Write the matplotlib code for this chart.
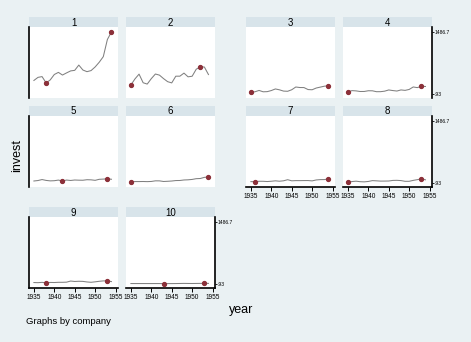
import numpy as np
import matplotlib

matplotlib.use("Agg")
import matplotlib.pyplot as plt  # noqa: E402

plt.rcParams["font.family"] = ["Liberation Sans", "DejaVu Sans"]

BG = "#eaf1f3"
STRIP = "#d8e4ea"
LINE = "#808080"
MARK = "#8c3039"

years = list(range(1935, 1955))

# investment by company (Grunfeld panel)
inv_1 = [317.6, 391.8, 410.6, 257.7, 330.8, 461.2, 512.0, 448.0, 499.6, 547.5,
         561.2, 688.1, 568.9, 529.2, 555.1, 642.9, 755.9, 891.2, 1304.4, 1486.7]
inv_2 = [209.9, 355.3, 469.9, 262.3, 230.4, 361.6, 472.8, 445.6, 361.6, 288.2,
         258.7, 420.3, 420.5, 494.5, 405.1, 418.8, 588.2, 645.5, 641.0, 459.3]
inv_3 = [33.1, 45.0, 77.2, 44.6, 48.1, 74.4, 113.0, 91.9, 61.3, 56.8,
         93.6, 159.9, 147.2, 146.3, 98.3, 93.5, 135.2, 157.3, 179.5, 189.6]
inv_4 = [40.29, 72.76, 66.26, 51.60, 52.41, 69.41, 68.35, 46.80, 47.40, 59.57,
         88.78, 74.12, 62.68, 89.36, 78.98, 100.66, 160.62, 145.00, 174.93, 172.49]
inv_5 = [39.68, 50.73, 74.24, 53.51, 42.65, 46.48, 61.40, 39.67, 62.24, 52.32,
         63.21, 59.37, 58.02, 70.34, 67.42, 55.74, 80.30, 85.40, 91.90, 81.43]
inv_6 = [20.36, 25.98, 25.94, 27.53, 24.60, 28.54, 43.41, 42.81, 27.84, 32.60,
         39.03, 50.17, 51.85, 64.03, 68.16, 77.34, 95.30, 99.49, 127.52, 135.72]
inv_7 = [24.43, 23.21, 32.78, 32.54, 26.65, 33.71, 43.50, 34.46, 44.28, 70.80,
         44.12, 48.98, 48.51, 50.00, 50.59, 42.53, 64.77, 72.68, 73.86, 89.51]
inv_8 = [12.93, 25.90, 35.05, 22.89, 18.84, 28.57, 48.51, 43.34, 37.02, 37.81,
         39.27, 53.46, 55.56, 49.56, 32.04, 32.24, 54.38, 71.78, 90.08, 68.60]
inv_9 = [26.63, 23.39, 30.65, 20.89, 28.78, 26.93, 32.08, 32.21, 35.69, 62.47,
         52.32, 56.95, 54.32, 40.53, 32.54, 43.48, 56.49, 65.98, 66.11, 49.34]
inv_10 = [2.54, 2.00, 2.19, 1.99, 2.03, 1.81, 2.14, 1.86, 0.93, 1.18,
          1.36, 2.24, 3.81, 5.66, 4.21, 3.42, 4.67, 6.00, 7.39, 5.92]
companies = ["1", "2", "3", "4", "5", "6", "7", "8", "9", "10"]
invest = [inv_1, inv_2, inv_3, inv_4, inv_5, inv_6, inv_7, inv_8, inv_9, inv_10]
x_ticks = [1935, 1940, 1945, 1950, 1955]
y_ticks = [0.93, 1486.7]
y_tick_labels = [".93", "1486.7"]

W, H = 471, 342
COL_X = [29, 126, 246, 343]
ROW_Y = [17, 106, 207]   # top of strip, px
PW, SH, PH = 89, 10, 71
# (row, col) for each company
SLOT = [(0, 0), (0, 1), (0, 2), (0, 3), (1, 0), (1, 1), (1, 2), (1, 3),
        (2, 0), (2, 1)]
LEFT_AX = {"1", "5", "9"}
RIGHT_AX = {"4", "8", "10"}
BOTTOM_AX = {"7", "8", "9", "10"}


def px_box(x, y, w, h):
    return [x / W, 1 - (y + h) / H, w / W, h / H]


fig = plt.figure(figsize=(W / 100, H / 100), dpi=100, facecolor=BG)

for name, vals, (r, c) in zip(companies, invest, SLOT):
    x0, y0 = COL_X[c], ROW_Y[r]
    st = fig.add_axes(px_box(x0, y0, PW, SH), facecolor=STRIP)
    st.set_xticks([])
    st.set_yticks([])
    for s in st.spines.values():
        s.set_visible(False)
    st.text(0.5, 0.45, name, ha="center", va="center", fontsize=7,
            transform=st.transAxes)

    ax = fig.add_axes(px_box(x0, y0 + SH, PW, PH), facecolor="white")
    v = np.array(vals)
    ax.plot(years, v, color=LINE, lw=0.75, zorder=2)
    imin, imax = int(v.argmin()), int(v.argmax())
    ax.plot([years[imin], years[imax]], [v[imin], v[imax]], "o", color=MARK,
            ms=2.8, zorder=3)
    ax.set_xlim(1933.8, 1955.6)
    ax.set_ylim(-105, 1605)
    for s in ax.spines.values():
        s.set_visible(False)
    ax.set_yticks([])
    ax.set_xticks([])
    if name in LEFT_AX:
        ax.spines["left"].set_visible(True)
        ax.spines["left"].set_linewidth(1.2)
    if name in RIGHT_AX:
        ax.spines["right"].set_visible(True)
        ax.spines["right"].set_linewidth(1.2)
        ax.yaxis.tick_right()
        ax.set_yticks(y_ticks)
        ax.set_yticklabels(y_tick_labels, fontsize=3.6)
        ax.tick_params(axis="y", length=1.5, width=0.6, pad=0.5)
    if name in BOTTOM_AX:
        ax.spines["bottom"].set_visible(True)
        ax.spines["bottom"].set_linewidth(1.2)
        ax.set_xticks(x_ticks)
        ax.set_xticklabels([str(t) for t in x_ticks], fontsize=4.7)
        ax.tick_params(axis="x", length=3, width=0.7, pad=1)

fig.text(17 / W, 1 - 155 / H, "invest", rotation=90, ha="center",
         va="center", fontsize=9)
fig.text(241 / W, 1 - 310 / H, "year", ha="center", va="center",
         fontsize=9)
fig.text(26 / W, 1 - 322 / H, "Graphs by company", ha="left", va="center",
         fontsize=6.8)

fig.savefig("out.png", dpi=100, facecolor=BG)
